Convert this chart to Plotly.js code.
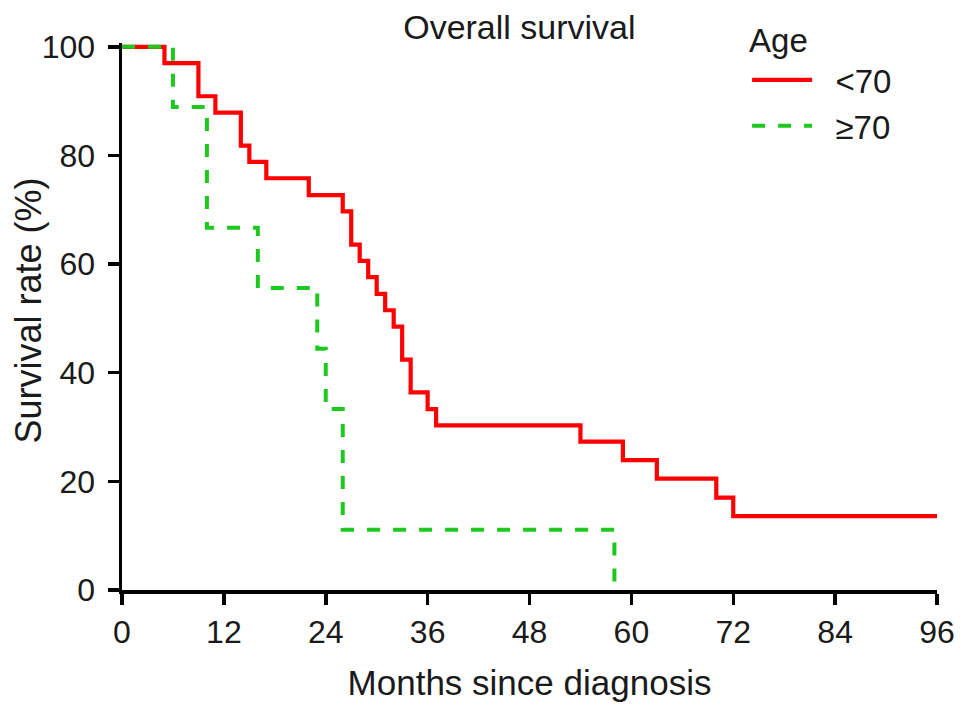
<!DOCTYPE html>
<html>
<head>
<meta charset="utf-8">
<script src="https://cdn.plot.ly/plotly-3.0.1.min.js"></script>
<style>html,body{margin:0;padding:0;background:#fff;}#chart{width:969px;height:716px;}</style>
</head>
<body>
<div id="chart"></div>
<script>
// Kaplan-Meier steps (months, survival %)
const youngMonths = [0, 5, 9, 11, 14, 15, 17, 22, 26, 27, 28, 29, 30, 31, 32, 33, 34, 36, 37, 54, 59, 63, 70, 72, 96];
const youngSurv   = [100, 97.0, 90.9, 87.9, 81.8, 78.8, 75.8, 72.7, 69.7, 63.6, 60.6, 57.6, 54.5, 51.5, 48.5, 42.4, 36.4, 33.3, 30.3, 27.3, 23.9, 20.5, 17.0, 13.6, 13.6];
const oldMonths = [0, 6, 10, 16, 23, 24, 26, 58];
const oldSurv   = [100, 88.9, 66.7, 55.6, 44.4, 33.3, 11.1, 0];
const xTicks = [0, 12, 24, 36, 48, 60, 72, 84, 96];
const yTicks = [0, 20, 40, 60, 80, 100];
const seriesNames = ['\u00a0\u00a0<70', '\u00a0\u00a0≥70'];

const font = 'Liberation Sans, Arial, Helvetica, sans-serif';
const txt = '#1a1a1a';

const traces = [
  {x: youngMonths, y: youngSurv, type: 'scatter', mode: 'lines', line: {shape: 'hv', color: '#ff0000', width: 4.2}, name: seriesNames[0]},
  {x: oldMonths, y: oldSurv, type: 'scatter', mode: 'lines', line: {shape: 'hv', color: '#1ec81e', width: 4, dash: '13px,13px'}, name: seriesNames[1]}
];

const layout = {
  width: 969, height: 716,
  margin: {l: 122, r: 32, t: 43, b: 126, autoexpand: false},
  paper_bgcolor: '#fff', plot_bgcolor: '#fff',
  font: {family: font, color: txt},
  title: {text: 'Overall survival', font: {size: 34, family: font, color: txt}, x: 0.536, xanchor: 'center', y: 0.962, yanchor: 'middle'},
  xaxis: {
    range: [0, 96], tickvals: xTicks, ticktext: xTicks.map(String),
    showgrid: false, zeroline: false, showline: true, linecolor: '#000', linewidth: 3.5,
    ticks: 'outside', ticklen: 11, tickwidth: 3.5, tickcolor: '#000',
    tickfont: {size: 32, family: font, color: txt},
    title: {text: 'Months since diagnosis', font: {size: 35, family: font, color: txt}, standoff: 22}
  },
  yaxis: {
    range: [0, 100.7], tickvals: yTicks, ticktext: yTicks.map(String),
    showgrid: false, zeroline: false, showline: true, linecolor: '#000', linewidth: 3.5,
    ticks: 'outside', ticklen: 11, tickwidth: 3.5, tickcolor: '#000',
    tickfont: {size: 32, family: font, color: txt}, ticklabelstandoff: 6
  },
  annotations: [{
    text: 'Survival rate (%)', textangle: -90, showarrow: false,
    xref: 'paper', yref: 'paper', x: 0, y: 0.5, xanchor: 'center', yanchor: 'middle',
    xshift: -94, yshift: 6,
    font: {size: 36, family: font, color: txt}
  }],
  showlegend: true,
  legend: {
    x: 0.767, y: 1.062, xanchor: 'left', yanchor: 'top',
    bgcolor: 'rgba(0,0,0,0)', borderwidth: 0,
    font: {size: 33, family: font, color: txt},
    title: {text: 'Age', font: {size: 33, family: font, color: txt}, side: 'top'},
    itemwidth: 60
  }
};

Plotly.newPlot('chart', traces, layout, {displayModeBar: false, staticPlot: true});
</script>
</body>
</html>
